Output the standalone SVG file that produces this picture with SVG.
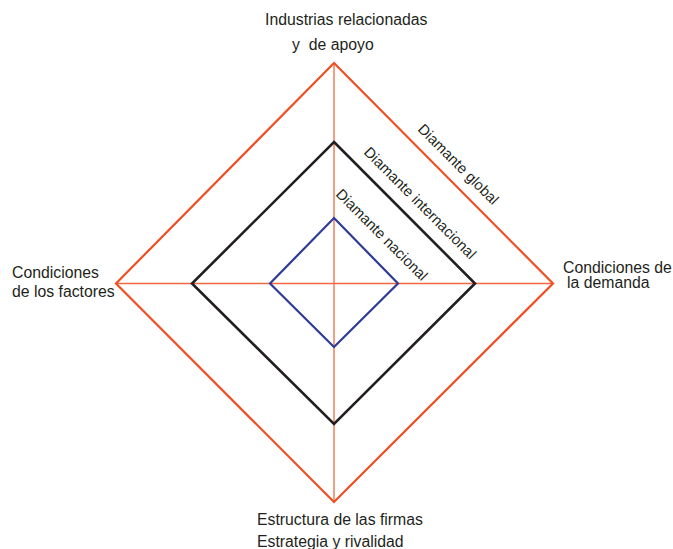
<svg xmlns="http://www.w3.org/2000/svg" width="673" height="549" viewBox="0 0 673 549">
<style>
text{font-family:"Liberation Sans",Arial,sans-serif;fill:#231f20;}
.h{font-size:15.8px;}
.r{font-size:14.8px;}
.axis{stroke:#f26a3f;stroke-width:1.3;fill:none;}
.outer{stroke:#f04e23;stroke-width:2.2;fill:none;stroke-linejoin:miter;}
.mid{stroke:#231f20;stroke-width:2.6;fill:none;}
.inner{stroke:#2e3b97;stroke-width:2.2;fill:none;}
</style>
<rect width="673" height="549" fill="#ffffff"/>
<g id="connectors">
<line class="axis" x1="334" y1="63" x2="334" y2="502"/>
<line class="axis" x1="116" y1="283.5" x2="553" y2="283.5"/>
</g>
<g id="diamante-global">
<polygon class="outer" points="334,63 553,283.5 334,502 116,283.5"/>
<text class="r" transform="translate(417,130) rotate(45)">Diamante global</text>
</g>
<g id="diamante-internacional">
<polygon class="mid" points="334,142 475,283.5 334,424 192,283.5"/>
<text class="r" transform="translate(363,153) rotate(45)">Diamante internacional</text>
</g>
<g id="diamante-nacional">
<polygon class="inner" points="334,218 398,283.5 334,347 270,283.5"/>
<text class="r" transform="translate(335,195) rotate(45)">Diamante nacional</text>
</g>
<g id="industrias">
<text class="h" x="265" y="25">Industrias relacionadas</text>
<text class="h" x="292" y="49.5" xml:space="preserve">y  de apoyo</text>
</g>
<g id="factores">
<text class="h" x="12" y="278">Condiciones</text>
<text class="h" x="12" y="296.5">de los factores</text>
</g>
<g id="demanda">
<text class="h" x="563" y="272.5">Condiciones de</text>
<text class="h" x="567" y="288">la demanda</text>
</g>
<g id="estructura">
<text class="h" x="257" y="525">Estructura de las firmas</text>
<text class="h" x="257" y="547">Estrategia y rivalidad</text>
</g>
</svg>
